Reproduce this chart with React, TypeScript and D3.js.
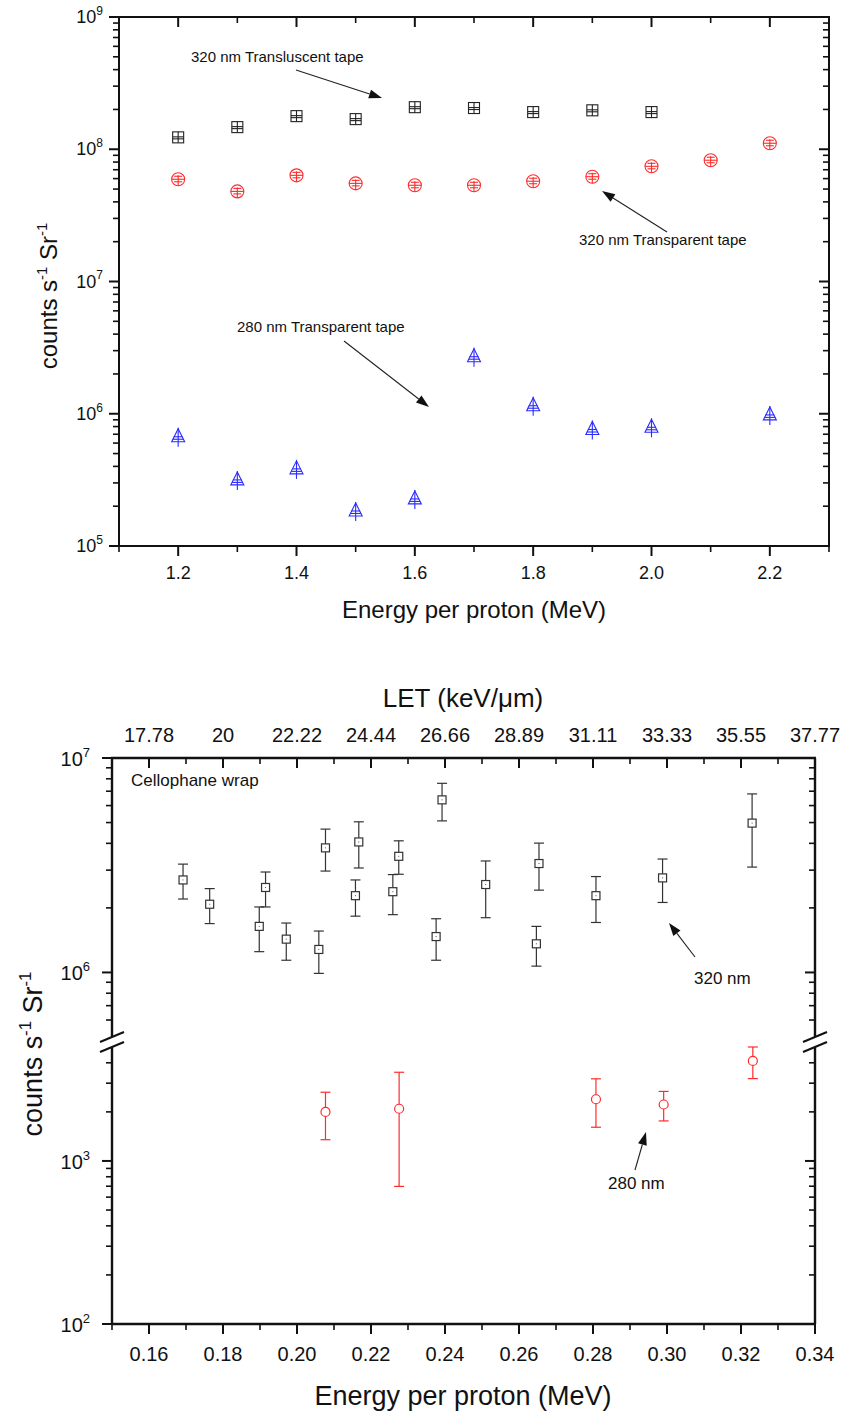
import React from "react";
import * as d3 from "d3";

// ---------- Top panel data ----------
const TOP_E_TRANSLUCENT = [1.2, 1.3, 1.4, 1.5, 1.6, 1.7, 1.8, 1.9, 2.0];
const TOP_320_TRANSLUCENT = [1.23e8, 1.47e8, 1.78e8, 1.69e8, 2.08e8, 2.05e8, 1.91e8, 1.97e8, 1.91e8];
const TOP_E_TRANSPARENT = [1.2, 1.3, 1.4, 1.5, 1.6, 1.7, 1.8, 1.9, 2.0, 2.1, 2.2];
const TOP_320_TRANSPARENT = [5.93e7, 4.8e7, 6.35e7, 5.52e7, 5.34e7, 5.34e7, 5.73e7, 6.2e7, 7.43e7, 8.26e7, 1.11e8];
const TOP_E_280 = [1.2, 1.3, 1.4, 1.5, 1.6, 1.7, 1.8, 1.9, 2.0, 2.2];
const TOP_280_TRANSPARENT = [6.7e5, 3.16e5, 3.83e5, 1.84e5, 2.27e5, 2.7e6, 1.15e6, 7.6e5, 7.9e5, 9.8e5];
const TOP_X_MAJOR = [1.2, 1.4, 1.6, 1.8, 2.0, 2.2];
const TOP_X_MINOR = [1.1, 1.3, 1.5, 1.7, 1.9, 2.1, 2.3];
const TOP_Y_DECADES = [5, 6, 7, 8, 9];

// ---------- Bottom panel data ----------
const BOT_E_320 = [0.1692, 0.1764, 0.1898, 0.1915, 0.1971, 0.2059, 0.2077, 0.2158, 0.2167, 0.2259, 0.2275, 0.2376, 0.2392, 0.251, 0.2647, 0.2654, 0.2808, 0.2988, 0.323];
const BOT_320_VAL = [2.7e6, 2.08e6, 1.64e6, 2.49e6, 1.43e6, 1.28e6, 3.81e6, 2.28e6, 4.06e6, 2.38e6, 3.48e6, 1.47e6, 6.38e6, 2.57e6, 1.36e6, 3.22e6, 2.28e6, 2.76e6, 4.97e6];
const BOT_320_HI = [3.2e6, 2.46e6, 2.02e6, 2.94e6, 1.7e6, 1.56e6, 4.66e6, 2.7e6, 5.04e6, 2.86e6, 4.11e6, 1.78e6, 7.62e6, 3.31e6, 1.64e6, 4.01e6, 2.8e6, 3.38e6, 6.8e6];
const BOT_320_LO = [2.2e6, 1.69e6, 1.25e6, 2.02e6, 1.14e6, 0.99e6, 2.97e6, 1.83e6, 3.07e6, 1.86e6, 2.87e6, 1.14e6, 5.09e6, 1.8e6, 1.07e6, 2.42e6, 1.71e6, 2.12e6, 3.1e6];
const BOT_E_280 = [0.2077, 0.2276, 0.2808, 0.2991, 0.3232];
const BOT_280_VAL = [2.0e3, 2.09e3, 2.39e3, 2.22e3, 4.11e3];
const BOT_280_HI = [2.64e3, 3.5e3, 3.19e3, 2.67e3, 5.0e3];
const BOT_280_LO = [1.35e3, 698, 1.61e3, 1.76e3, 3.2e3];
const BOT_X_MAJOR = [0.16, 0.18, 0.2, 0.22, 0.24, 0.26, 0.28, 0.3, 0.32, 0.34];
const BOT_X_MINOR = [0.15, 0.17, 0.19, 0.21, 0.23, 0.25, 0.27, 0.29, 0.31, 0.33];
const LET_LABELS = ["17.78", "20", "22.22", "24.44", "26.66", "28.89", "31.11", "33.33", "35.55", "37.77"];
const BOT_Y_UP_MAJOR = [1e6, 1e7];
const BOT_Y_UP_MINOR = [6e5, 7e5, 8e5, 9e5, 2e6, 3e6, 4e6, 5e6, 6e6, 7e6, 8e6, 9e6];
const BOT_Y_LO_MAJOR = [1e2, 1e3];
const BOT_Y_LO_MINOR = [2e2, 3e2, 4e2, 5e2, 6e2, 7e2, 8e2, 9e2, 2e3, 3e3, 4e3];

const FONT = "'Liberation Sans', Arial, Helvetica, sans-serif";
const BLACK = "#222";
const RED = "#ff2b2b";
const BLUE = "#2b2bff";

function Arrow({ x1, y1, x2, y2, len = 13, w = 4.5 }: any) {
  const dx = x2 - x1, dy = y2 - y1;
  const L = Math.sqrt(dx * dx + dy * dy);
  const ux = dx / L, uy = dy / L;
  const bx = x2 - ux * len, by = y2 - uy * len;
  const px = -uy, py = ux;
  return (
    <g>
      <line x1={x1} y1={y1} x2={bx} y2={by} stroke="#222" strokeWidth={1.1} />
      <polygon points={`${x2},${y2} ${bx + px * w},${by + py * w} ${bx - px * w},${by - py * w}`} fill="#111" />
    </g>
  );
}

function Pow({ x, y, exp, size, supSize, anchor = "end" }: any) {
  return (
    <text x={x} y={y} fontSize={size} fontFamily={FONT} textAnchor={anchor} fill="#111">
      <tspan>10</tspan>
      <tspan fontSize={supSize} dy={-size * 0.45}>{exp}</tspan>
    </text>
  );
}

function YTitle({ x, y, size }: any) {
  const s = size * 0.62;
  return (
    <text transform={`translate(${x},${y}) rotate(-90)`} fontSize={size} fontFamily={FONT} textAnchor="middle" fill="#111">
      <tspan>counts s</tspan>
      <tspan fontSize={s} dy={-size * 0.42}>-1</tspan>
      <tspan dy={size * 0.42}> Sr</tspan>
      <tspan fontSize={s} dy={-size * 0.42}>-1</tspan>
    </text>
  );
}

export default function App() {
  // ---------- top scales ----------
  const tL = 119, tR = 829, tT = 17, tB = 546;
  const x1 = d3.scaleLinear().domain([1.1, 2.3]).range([tL, tR]);
  const y1 = d3.scaleLog().domain([1e5, 1e9]).range([tB, tT]);
  const topMinorY: number[] = [];
  TOP_Y_DECADES.slice(0, -1).forEach((d) => {
    for (let k = 2; k <= 9; k++) topMinorY.push(k * Math.pow(10, d));
  });

  // ---------- bottom scales ----------
  const bL = 112, bR = 815, bT = 758, bB = 1324;
  const breakUp = 1037, breakLo = 1047;
  const x2 = d3.scaleLinear().domain([0.15, 0.34]).range([bL, bR]);
  const yUp = d3.scaleLog().domain([5e5, 1e7]).range([breakUp, bT]);
  const yLo = d3.scaleLog().domain([1e2, 5e3]).range([bB, breakLo]);

  const sw = 2;

  return (
    <svg width={843} height={1412} style={{ position: "absolute", left: 0, top: 0, background: "#fff" }}>
      <rect x={0} y={0} width={843} height={1412} fill="#fff" />

      {/* ================= TOP PANEL ================= */}
      <g>
        {/* x ticks bottom (outward) & top (inward) */}
        {TOP_X_MAJOR.map((v) => (
          <g key={"txM" + v}>
            <line x1={x1(v)} x2={x1(v)} y1={tB} y2={tB + 10} stroke="#111" strokeWidth={2} />
            <line x1={x1(v)} x2={x1(v)} y1={tT} y2={tT + 10} stroke="#111" strokeWidth={2} />
            <text x={x1(v)} y={579} fontSize={18} fontFamily={FONT} textAnchor="middle" fill="#111">{v.toFixed(1)}</text>
          </g>
        ))}
        {TOP_X_MINOR.map((v) => (
          <g key={"txm" + v}>
            <line x1={x1(v)} x2={x1(v)} y1={tB} y2={tB + 6} stroke="#111" strokeWidth={1.6} />
            <line x1={x1(v)} x2={x1(v)} y1={tT} y2={tT + 6} stroke="#111" strokeWidth={1.6} />
          </g>
        ))}
        {/* y ticks */}
        {TOP_Y_DECADES.map((d) => {
          const v = Math.pow(10, d);
          return (
            <g key={"tyM" + d}>
              <line x1={tL - 10} x2={tL} y1={y1(v)} y2={y1(v)} stroke="#111" strokeWidth={2} />
              <line x1={tR - 10} x2={tR} y1={y1(v)} y2={y1(v)} stroke="#111" strokeWidth={2} />
              <Pow x={103} y={y1(v) + 6} exp={d} size={18} supSize={12} />
            </g>
          );
        })}
        {topMinorY.map((v, i) => (
          <g key={"tym" + i}>
            <line x1={tL - 6} x2={tL} y1={y1(v)} y2={y1(v)} stroke="#111" strokeWidth={1.6} />
            <line x1={tR - 6} x2={tR} y1={y1(v)} y2={y1(v)} stroke="#111" strokeWidth={1.6} />
          </g>
        ))}
        <rect x={tL} y={tT} width={tR - tL} height={tB - tT} fill="none" stroke="#111" strokeWidth={sw} />

        {/* series: 320 nm translucent (black squares) */}
        {TOP_E_TRANSLUCENT.map((e, i) => {
          const cx = x1(e), cy = y1(TOP_320_TRANSLUCENT[i]);
          return (
            <g key={"sq" + i} stroke={BLACK} strokeWidth={1.1} fill="none">
              <rect x={cx - 5.5} y={cy - 5.5} width={11} height={11} />
              <line x1={cx} x2={cx} y1={cy - 5.5} y2={cy + 5.5} />
              <line x1={cx - 5.5} x2={cx + 5.5} y1={cy - 0.5} y2={cy - 0.5} />
              <line x1={cx - 5.5} x2={cx + 5.5} y1={cy + 1.5} y2={cy + 1.5} />
            </g>
          );
        })}
        {/* series: 320 nm transparent (red circles) */}
        {TOP_E_TRANSPARENT.map((e, i) => {
          const cx = x1(e), cy = y1(TOP_320_TRANSPARENT[i]);
          return (
            <g key={"ci" + i} stroke={RED} strokeWidth={1.1} fill="none">
              <circle cx={cx} cy={cy} r={6.5} />
              <line x1={cx - 6.5} x2={cx + 6.5} y1={cy} y2={cy} />
              <line x1={cx} x2={cx} y1={cy - 4} y2={cy + 6.5} />
              <line x1={cx - 4} x2={cx + 4} y1={cy + 2.5} y2={cy + 2.5} />
              <line x1={cx - 4} x2={cx + 4} y1={cy - 3} y2={cy - 3} />
            </g>
          );
        })}
        {/* series: 280 nm transparent (blue triangles) */}
        {TOP_E_280.map((e, i) => {
          const cx = x1(e), cy = y1(TOP_280_TRANSPARENT[i]);
          return (
            <g key={"tr" + i} stroke={BLUE} strokeWidth={1.1} fill="none">
              <polygon points={`${cx},${cy - 8} ${cx - 6.5},${cy + 5} ${cx + 6.5},${cy + 5}`} />
              <line x1={cx} x2={cx} y1={cy - 9} y2={cy + 10} />
              <line x1={cx - 4.5} x2={cx + 4.5} y1={cy} y2={cy} />
              <line x1={cx - 5.5} x2={cx + 5.5} y1={cy + 2.5} y2={cy + 2.5} />
            </g>
          );
        })}

        {/* annotations */}
        <text x={191} y={62} fontSize={15} fontFamily={FONT} fill="#111">320 nm Transluscent tape</text>
        <Arrow x1={296} y1={70} x2={382} y2={98} />
        <text x={579} y={245} fontSize={15} fontFamily={FONT} fill="#111">320 nm Transparent tape</text>
        <Arrow x1={667} y1={232} x2={602} y2={191} />
        <text x={237} y={332} fontSize={15} fontFamily={FONT} fill="#111">280 nm Transparent tape</text>
        <Arrow x1={344} y1={341} x2={429} y2={407} />

        {/* titles */}
        <text x={(tL + tR) / 2} y={618} fontSize={24} fontFamily={FONT} textAnchor="middle" fill="#111">Energy per proton (MeV)</text>
        <YTitle x={57} y={296} size={24} />
      </g>

      {/* ================= BOTTOM PANEL ================= */}
      <g>
        {/* x ticks bottom (outward), top (inward) */}
        {BOT_X_MAJOR.map((v, i) => (
          <g key={"bxM" + v}>
            <line x1={x2(v)} x2={x2(v)} y1={bB} y2={bB + 10} stroke="#111" strokeWidth={2} />
            <line x1={x2(v)} x2={x2(v)} y1={bT} y2={bT + 10} stroke="#111" strokeWidth={2} />
            <text x={x2(v)} y={1361} fontSize={20} fontFamily={FONT} textAnchor="middle" fill="#111">{v.toFixed(2)}</text>
            <text x={x2(v)} y={742} fontSize={20} fontFamily={FONT} textAnchor="middle" fill="#111">{LET_LABELS[i]}</text>
          </g>
        ))}
        {BOT_X_MINOR.map((v) => (
          <g key={"bxm" + v}>
            <line x1={x2(v)} x2={x2(v)} y1={bB} y2={bB + 6} stroke="#111" strokeWidth={1.6} />
            <line x1={x2(v)} x2={x2(v)} y1={bT} y2={bT + 6} stroke="#111" strokeWidth={1.6} />
          </g>
        ))}
        {/* y ticks upper segment */}
        {BOT_Y_UP_MAJOR.map((v) => (
          <g key={"buM" + v}>
            <line x1={bL - 10} x2={bL} y1={yUp(v)} y2={yUp(v)} stroke="#111" strokeWidth={2} />
            <line x1={bR - 10} x2={bR} y1={yUp(v)} y2={yUp(v)} stroke="#111" strokeWidth={2} />
            <Pow x={90} y={yUp(v) + 8} exp={Math.round(Math.log10(v))} size={20} supSize={13} />
          </g>
        ))}
        {BOT_Y_UP_MINOR.map((v) => (
          <g key={"bum" + v}>
            <line x1={bL - 6} x2={bL} y1={yUp(v)} y2={yUp(v)} stroke="#111" strokeWidth={1.6} />
            <line x1={bR - 6} x2={bR} y1={yUp(v)} y2={yUp(v)} stroke="#111" strokeWidth={1.6} />
          </g>
        ))}
        {BOT_Y_LO_MAJOR.map((v) => (
          <g key={"blM" + v}>
            <line x1={bL - 10} x2={bL} y1={yLo(v)} y2={yLo(v)} stroke="#111" strokeWidth={2} />
            <line x1={bR - 10} x2={bR} y1={yLo(v)} y2={yLo(v)} stroke="#111" strokeWidth={2} />
            <Pow x={90} y={yLo(v) + 8} exp={Math.round(Math.log10(v))} size={20} supSize={13} />
          </g>
        ))}
        {BOT_Y_LO_MINOR.map((v) => (
          <g key={"blm" + v}>
            <line x1={bL - 6} x2={bL} y1={yLo(v)} y2={yLo(v)} stroke="#111" strokeWidth={1.6} />
            <line x1={bR - 6} x2={bR} y1={yLo(v)} y2={yLo(v)} stroke="#111" strokeWidth={1.6} />
          </g>
        ))}
        {/* frame with broken verticals */}
        <line x1={bL - 1} x2={bR + 1} y1={bT} y2={bT} stroke="#111" strokeWidth={2.4} />
        <line x1={bL - 1} x2={bR + 1} y1={bB} y2={bB} stroke="#111" strokeWidth={2.4} />
        {[bL, bR].map((x) => (
          <g key={"ax" + x}>
            <line x1={x} x2={x} y1={bT} y2={breakUp} stroke="#111" strokeWidth={2.4} />
            <line x1={x} x2={x} y1={breakLo} y2={bB} stroke="#111" strokeWidth={2.4} />
            <line x1={x - 12} y1={breakUp + 5} x2={x + 12} y2={breakUp - 5} stroke="#111" strokeWidth={2} />
            <line x1={x - 12} y1={breakLo + 5} x2={x + 12} y2={breakLo - 5} stroke="#111" strokeWidth={2} />
          </g>
        ))}

        {/* 320 nm series with error bars */}
        {BOT_E_320.map((e, i) => {
          const cx = x2(e), cy = yUp(BOT_320_VAL[i]);
          const hi = yUp(BOT_320_HI[i]), lo = yUp(BOT_320_LO[i]);
          return (
            <g key={"b3" + i} stroke="#333" strokeWidth={1.2}>
              <line x1={cx} x2={cx} y1={hi} y2={lo} />
              <line x1={cx - 5} x2={cx + 5} y1={hi} y2={hi} />
              <line x1={cx - 5} x2={cx + 5} y1={lo} y2={lo} />
              <rect x={cx - 4} y={cy - 4} width={8} height={8} fill="#fff" />
              <rect x={cx - 0.5} y={cy - 0.5} width={1} height={1} fill="#555" stroke="none" />
            </g>
          );
        })}
        {/* 280 nm series with error bars */}
        {BOT_E_280.map((e, i) => {
          const cx = x2(e), cy = yLo(BOT_280_VAL[i]);
          const hi = yLo(BOT_280_HI[i]), lo = yLo(BOT_280_LO[i]);
          return (
            <g key={"b2" + i} stroke={RED} strokeWidth={1.2}>
              <line x1={cx} x2={cx} y1={hi} y2={lo} />
              <line x1={cx - 5} x2={cx + 5} y1={hi} y2={hi} />
              <line x1={cx - 5} x2={cx + 5} y1={lo} y2={lo} />
              <circle cx={cx} cy={cy} r={4.5} fill="#fff" />
            </g>
          );
        })}

        {/* annotations */}
        <text x={131} y={786} fontSize={17} fontFamily={FONT} fill="#111">Cellophane wrap</text>
        <text x={694} y={984} fontSize={17} fontFamily={FONT} fill="#111">320 nm</text>
        <Arrow x1={695} y1={957} x2={669} y2={923} />
        <text x={608} y={1189} fontSize={17} fontFamily={FONT} fill="#111">280 nm</text>
        <Arrow x1={635} y1={1170} x2={646} y2={1132} />

        {/* titles */}
        <text x={463} y={707} fontSize={26} fontFamily={FONT} textAnchor="middle" fill="#111">LET (keV/μm)</text>
        <text x={463} y={1405} fontSize={27} fontFamily={FONT} textAnchor="middle" fill="#111">Energy per proton (MeV)</text>
        <YTitle x={42} y={1054} size={27} />
      </g>
    </svg>
  );
}
